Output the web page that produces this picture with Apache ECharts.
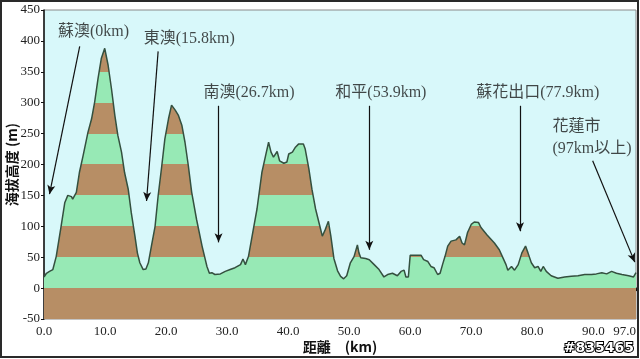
<!DOCTYPE html>
<html>
<head>
<meta charset="utf-8">
<script src="https://cdn.jsdelivr.net/npm/echarts@6/dist/echarts.min.js"></script>
<style>html,body{margin:0;padding:0;background:#fff}#c{width:640px;height:359px}</style>
</head>
<body>
<div id="c"></div>
<script>
// distance (km)
const km = [0, 0.4, 0.9, 1.45, 2.0, 2.8, 3.4, 3.9, 4.5, 4.7, 5.0, 5.3, 5.8, 6.4, 7.2, 7.8, 8.3, 8.85, 9.4, 9.95,
  10.5, 11.05, 11.6, 12.1, 12.7, 13.2, 13.8, 14.3, 14.9, 15.3, 15.7, 16.25, 16.7, 17.1, 17.6, 18.2, 18.7, 19.3, 19.8, 20.4,
  20.9, 21.5, 22.0, 22.6, 23.1, 23.65, 24.2, 25.0, 25.9, 26.7, 27.1, 27.5, 28.0, 28.9, 29.7, 30.5, 31.3, 32.2, 32.6, 33.0,
  33.5, 34.1, 34.9, 35.7, 36.3, 36.8, 37.2, 37.6, 38.2, 38.6, 39.3, 39.8, 40.1, 40.7, 41.2, 41.7, 42.5, 42.8, 43.4, 43.9,
  44.5, 45.2, 45.6, 46.1, 46.6, 47.0, 47.5, 48.1, 48.6, 49.1, 49.6, 50.2, 50.8, 51.35, 51.6, 51.9, 52.7, 53.3, 54.1, 54.9,
  55.7, 56.3, 57.1, 57.9, 58.5, 59.0, 59.3, 59.7, 60.0, 61.8, 62.2, 62.9, 63.4, 63.9, 64.5, 64.9, 65.3, 65.7, 66.15, 66.7,
  67.5, 68.1, 68.5, 68.9, 69.4, 70.0, 70.5, 71.2, 71.6, 72.6, 73.8, 74.6, 75.2, 75.7, 76.0, 76.6, 77.1, 77.7, 78.3, 78.9,
  79.3, 79.85, 80.4, 80.95, 81.4, 81.8, 82.3, 83.1, 84.2, 85.3, 86.4, 87.5, 88.6, 89.7, 90.5, 91.4, 92.2, 93.0, 93.8, 94.7,
  95.8, 96.6, 97.0];
// elevation (m)
const elev = [18, 24, 27, 30, 51, 100, 138, 150, 148, 144, 144, 155, 187, 214, 252, 274, 301, 339, 372, 388,
  361, 323, 280, 247, 220, 187, 160, 122, 84, 57, 41, 30, 31, 41, 68, 100, 149, 198, 241, 274,
  296, 288, 280, 263, 236, 198, 155, 111, 68, 35, 24, 25, 22, 23, 27, 30, 33, 38, 47, 38,
  51, 84, 128, 187, 214, 236, 220, 212, 221, 206, 202, 204, 217, 220, 228, 233, 233, 225, 193, 160,
  128, 100, 84, 95, 108, 84, 48, 28, 19, 15, 20, 41, 51, 70, 57, 49, 48, 46, 38, 30,
  18, 22, 24, 20, 27, 29, 18, 18, 53, 53, 46, 43, 35, 33, 22, 24, 38, 51, 68, 76,
  78, 84, 73, 70, 90, 103, 107, 106, 98, 86, 73, 62, 49, 38, 29, 35, 29, 38, 57, 68,
  57, 41, 33, 35, 27, 35, 27, 20, 16, 18, 19, 20, 22, 22, 23, 25, 23, 27, 24, 22,
  20, 18, 25];

// annotations: label text, label anchor (km, m), arrow start (km, m), arrow end (km, m)
const noteText  = ['蘇澳(0km)', '東澳(15.8km)', '南澳(26.7km)', '和平(53.9km)', '蘇花出口(77.9km)', '花蓮市\n(97km以上)'];
const noteLabel = [[8.1, 415], [23.8, 404], [33.6, 316], [55.2, 316], [80.9, 316], [83.3, 243]];
const arrowFrom = [[5.85, 391], [18.7, 383], [28.6, 295], [53.3, 295], [78.0, 295], [89.9, 206]];
const arrowTo   = [[0.9, 152], [16.8, 141], [28.6, 74], [53.3, 62], [78.0, 92], [96.8, 42]];

const BROWN = '#b78e65', GREEN = '#97e9b5';
const bandPieces = [];
for (let b = -100; b < 500; b += 50) {
  bandPieces.push({ gte: b, lt: b + 50, color: (Math.round(b / 50) % 2 === 0) ? GREEN : BROWN });
}

const serif = '"Liberation Serif", "Noto Sans CJK TC", serif';
const chart = echarts.init(document.getElementById('c'), null, { renderer: 'canvas' });
chart.setOption({
  backgroundColor: '#ffffff',
  animation: false,
  grid: { left: 44, right: 4, top: 10, bottom: 40, containLabel: false, outerBoundsMode: 'none',
    show: true, backgroundColor: '#d8f8fa', borderColor: '#8a8a8a', borderWidth: 1 },
  visualMap: { show: false, type: 'piecewise', seriesIndex: 0, dimension: 1, pieces: bandPieces },
  xAxis: {
    type: 'value', min: 0, max: 97, interval: 10,
    name: '距離　(km)', nameLocation: 'middle', nameGap: 21, nameMoveOverlap: false,
    nameTextStyle: { fontFamily: '"Noto Sans CJK TC", sans-serif', fontWeight: 'bold', fontSize: 14, color: '#111' },
    axisLine: { lineStyle: { color: '#111', width: 1.5 } },
    axisTick: { show: true, length: 3, lineStyle: { color: '#111' } },
    axisLabel: { fontFamily: serif, fontSize: 13, color: '#222', margin: 6, alignMaxLabel: 'right',
      formatter: v => v.toFixed(1) },
    splitLine: { show: false }
  },
  yAxis: {
    type: 'value', min: -50, max: 450, interval: 50,
    name: '海拔高度 (m)', nameLocation: 'middle', nameGap: 25, nameRotate: 90, nameMoveOverlap: false,
    nameTextStyle: { fontFamily: '"Noto Sans CJK TC", sans-serif', fontWeight: 'bold', fontSize: 14, color: '#111' },
    axisLine: { show: true, lineStyle: { color: '#111', width: 1.5 } },
    axisTick: { show: true, length: 3, lineStyle: { color: '#111' } },
    axisLabel: { fontFamily: serif, fontSize: 13, color: '#222', margin: 4 },
    splitLine: { show: false }
  },
  series: [
    {
      type: 'line', silent: true, showSymbol: false, smooth: false,
      data: km.map((k, i) => [k, elev[i]]),
      lineStyle: { color: '#34503f', width: 1.5 },
      areaStyle: { opacity: 1, origin: 'start' },
      z: 2
    },
    {
      type: 'scatter', silent: true, symbolSize: 0, z: 5,
      data: noteText.map((t, i) => ({ name: t, value: noteLabel[i] })),
      label: {
        show: true, formatter: '{b}', fontFamily: serif, fontSize: 16, color: '#1a1a1a', lineHeight: 22,
        position: 'inside'
      },
      markLine: {
        silent: true, symbol: ['none', 'arrow'], symbolSize: [6, 9], animation: false,
        label: { show: false },
        lineStyle: { color: '#111', width: 1.2, type: 'solid' },
        emphasis: { disabled: true },
        data: arrowFrom.map((f, i) => [{ coord: f }, { coord: arrowTo[i] }])
      }
    }
  ],
  graphic: [
    { type: 'rect', shape: { x: 1, y: 1, width: 637, height: 356 }, style: { fill: 'none', stroke: '#2a2a2a', lineWidth: 2 }, silent: true, z: 100 },
    { type: 'text', right: 5, bottom: 3, style: { text: '#835465', fill: '#ffffff', stroke: '#000000', lineWidth: 2, font: 'bold 14px "DejaVu Sans", sans-serif' }, z: 100 }
  ]
});
// left-align the two-line 花蓮市 label
const opt = chart.getOption();
const d = opt.series[1].data;
d[5] = { name: d[5].name, value: d[5].value, label: { position: 'right', distance: 0, align: 'left' } };
chart.setOption({ series: [{}, { data: d }] });
</script>
</body>
</html>
